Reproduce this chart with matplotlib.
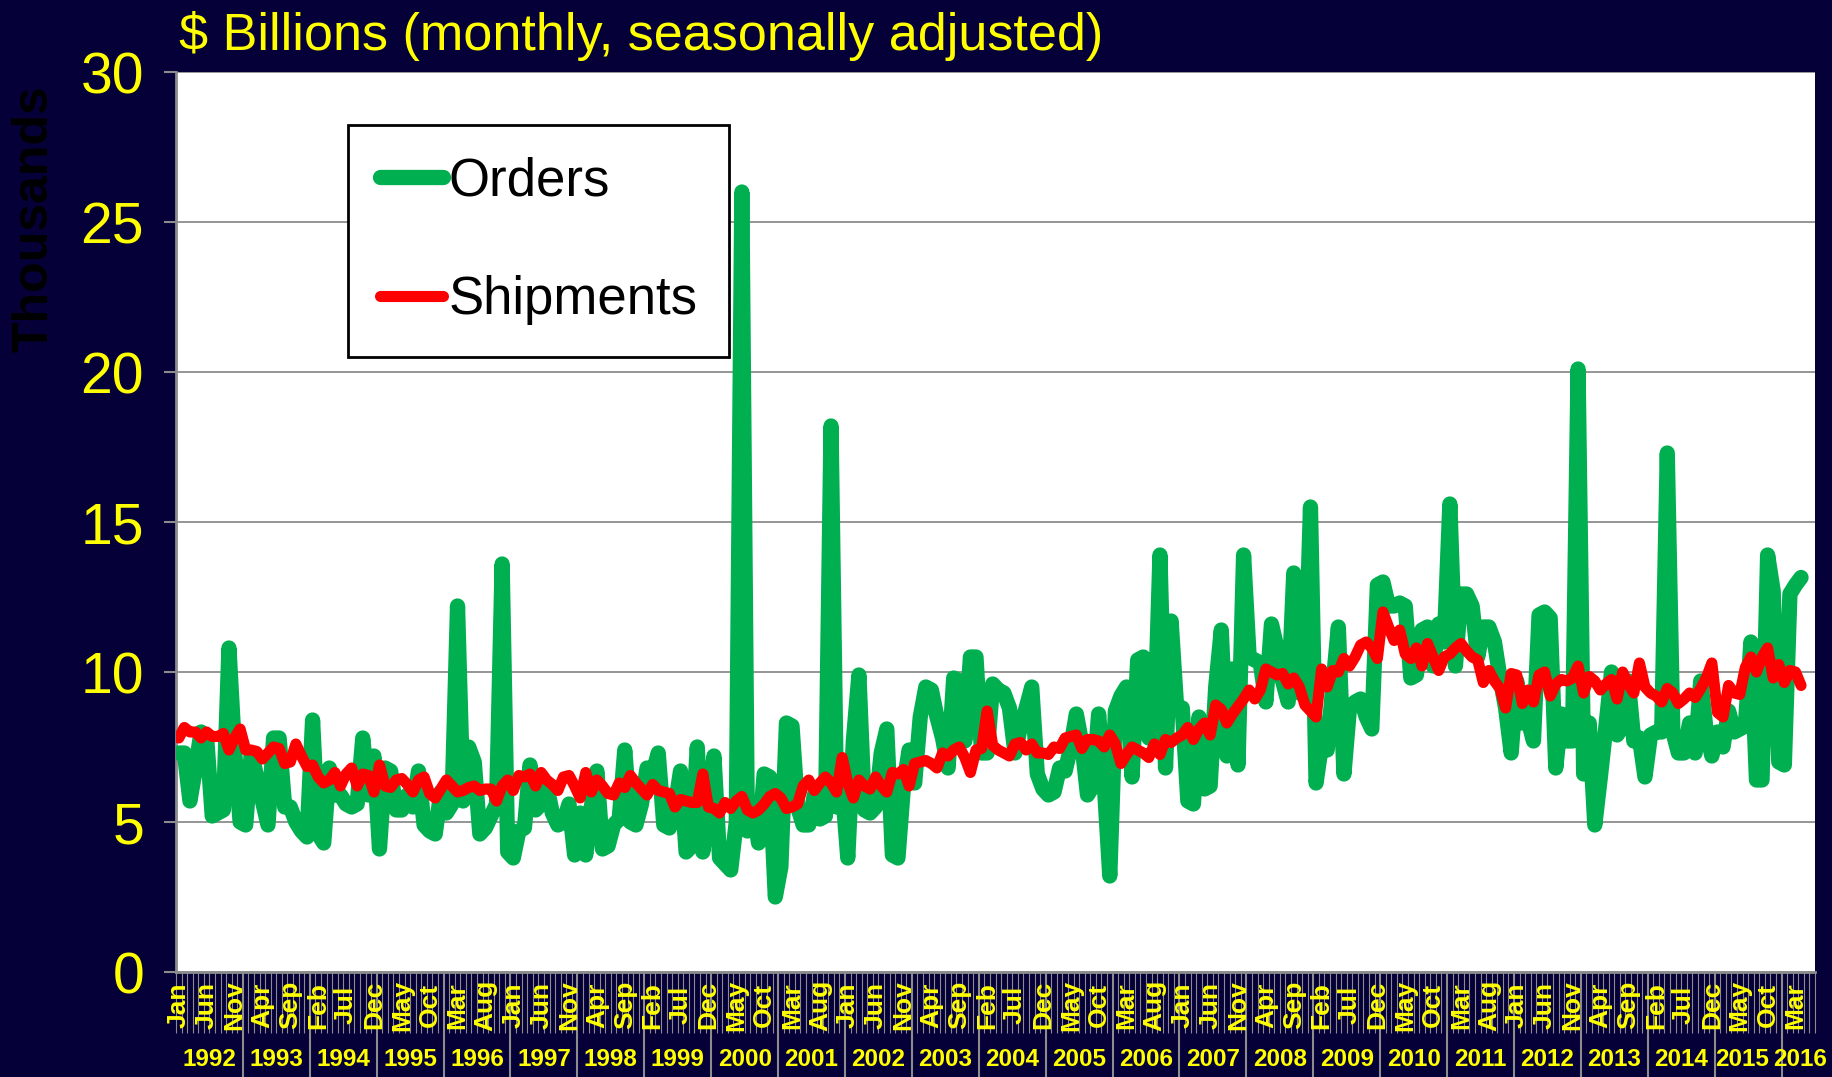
import numpy as np
import matplotlib
matplotlib.use("Agg")
import matplotlib.pyplot as plt
import matplotlib.transforms as mtrans

plt.rcParams['font.family'] = ['Liberation Sans', 'DejaVu Sans']

# monthly values, Jan 1992 .. Apr 2016 (thousands of $ billions)
orders = [
    7.3, 7.3, 5.7, 6.8, 8.0, 7.8, 5.2, 5.3, 5.4, 10.8, 7.4, 5.0,
    4.9, 7.3, 6.5, 5.7, 4.9, 7.8, 7.8, 5.5, 5.5, 5.0, 4.7, 4.5,
    8.4, 4.6, 4.3, 6.8, 5.9, 5.9, 5.6, 5.5, 5.6, 7.8, 5.9, 7.2,
    4.1, 6.8, 6.7, 5.4, 5.4, 5.9, 5.5, 6.7, 4.9, 4.7, 4.6, 6.0,
    5.3, 5.6, 12.2, 5.7, 7.5, 7.0, 4.6, 4.8, 5.2, 5.6, 13.6, 4.0,
    3.8, 4.7, 4.8, 6.9, 5.4, 5.6, 6.2, 5.3, 4.9, 5.0, 5.6, 3.9,
    5.3, 3.9, 5.5, 6.7, 4.1, 4.2, 4.9, 5.1, 7.4, 5.0, 4.9, 5.6,
    6.8, 6.6, 7.3, 4.9, 4.8, 5.5, 6.7, 4.0, 4.2, 7.5, 4.0, 5.5,
    7.2, 3.8, 3.6, 3.4, 5.0, 26.0, 4.7, 5.5, 4.3, 6.6, 6.5, 2.5,
    3.5, 8.3, 8.2, 5.5, 4.9, 4.9, 5.9, 5.1, 5.2, 18.2, 5.5, 6.2,
    3.8, 7.7, 9.9, 5.4, 5.3, 5.5, 7.3, 8.1, 3.9, 3.8, 6.2, 7.4,
    6.3, 8.5, 9.5, 9.4, 8.5, 7.8, 6.8, 9.8, 9.7, 7.7, 10.5, 10.5,
    7.3, 7.3, 9.6, 9.4, 9.3, 8.8, 7.3, 8.2, 8.8, 9.5, 6.6, 6.1,
    5.9, 6.0, 6.8, 6.7, 7.5, 8.6, 7.6, 5.9, 6.2, 8.6, 6.3, 3.2,
    8.7, 9.2, 9.5, 6.5, 10.4, 10.5, 7.8, 7.9, 13.9, 6.8, 11.7, 8.8,
    8.8, 5.7, 5.6, 8.5, 6.1, 6.2, 9.5, 11.4, 7.2, 10.1, 6.9, 13.9,
    10.5, 10.4, 10.3, 9.0, 11.6, 10.8, 9.7, 9.0, 13.3, 9.3, 9.5, 15.5,
    6.3, 7.6, 7.4, 9.5, 11.5, 6.6, 8.8, 9.0, 9.1, 8.5, 8.1, 12.9,
    13.0, 12.2, 12.2, 12.3, 12.2, 9.8, 9.9, 11.4, 11.5, 10.2, 11.6, 11.0,
    15.6, 10.2, 12.6, 12.6, 12.2, 10.5, 11.5, 11.5, 11.0, 9.8, 8.8, 7.3,
    9.7, 8.3, 8.4, 7.7, 11.9, 12.0, 11.8, 6.8, 8.6, 7.7, 7.7, 20.1,
    6.6, 8.3, 4.9, 6.5, 8.2, 10.0, 7.9, 8.2, 9.7, 7.7, 7.8, 6.5,
    7.9, 8.0, 8.0, 17.3, 8.0, 7.3, 7.3, 8.3, 7.3, 9.7, 8.0, 7.2,
    8.0, 7.5, 8.7, 8.0, 8.1, 8.2, 11.0, 6.4, 6.4, 13.9, 12.7, 7.0,
    6.9, 12.6, 12.9, 13.15,
]

shipments = [
    7.8, 8.15, 8.0, 8.0, 7.8, 8.0, 7.85, 7.85, 7.95, 7.4, 7.8, 8.1,
    7.4, 7.4, 7.35, 7.1, 7.3, 7.5, 7.45, 6.95, 7.0, 7.6, 7.2, 6.85,
    6.9, 6.5, 6.3, 6.4, 6.65, 6.2, 6.6, 6.8, 6.2, 6.6, 6.55, 6.0,
    6.9, 6.2, 6.15, 6.4, 6.45, 6.25, 6.0, 6.4, 6.5, 5.95, 5.8, 6.1,
    6.4, 6.2, 6.0, 6.05, 6.15, 6.2, 6.05, 6.1, 6.1, 5.7, 6.2, 6.4,
    6.05, 6.55, 6.5, 6.6, 6.2, 6.65, 6.4, 6.25, 6.05, 6.5, 6.55, 6.2,
    5.8, 6.65, 6.0, 6.4, 6.2, 5.95, 5.9, 6.3, 6.15, 6.55, 6.3, 6.1,
    5.9, 6.25, 6.05, 6.0, 5.95, 5.5, 5.75, 5.7, 5.65, 5.65, 6.6, 5.5,
    5.45, 5.3, 5.65, 5.45, 5.7, 5.85, 5.4, 5.3, 5.4, 5.6, 5.85, 5.95,
    5.8, 5.45, 5.5, 5.6, 6.2, 6.4, 6.05, 6.3, 6.5, 6.3, 6.0, 7.15,
    6.3, 5.8, 6.4, 6.2, 6.1, 6.5, 6.2, 6.0, 6.65, 6.6, 6.75, 6.2,
    6.95, 7.0, 7.05, 6.95, 6.8, 7.3, 7.2, 7.4, 7.5, 7.15, 6.65, 7.4,
    7.45, 8.7, 7.55, 7.4, 7.3, 7.2, 7.6, 7.65, 7.4, 7.6, 7.3, 7.3,
    7.25, 7.5, 7.45, 7.8, 7.85, 7.9, 7.45, 7.75, 7.75, 7.7, 7.5, 7.9,
    7.6, 6.95, 7.25, 7.5, 7.4, 7.3, 7.15, 7.6, 7.25, 7.75, 7.65, 7.8,
    7.9, 8.15, 7.75, 8.1, 8.3, 7.9, 8.9, 8.75, 8.3, 8.6, 8.85, 9.1,
    9.4, 9.1, 9.4, 10.1, 10.0, 9.9, 9.95, 9.6, 9.8, 9.5, 8.9, 8.7,
    8.5, 10.1, 9.5, 10.05, 10.0, 10.45, 10.2, 10.5, 10.9, 11.0, 10.8, 10.45,
    12.0, 11.5, 11.05, 11.4, 10.6, 10.45, 10.8, 10.2, 10.95, 10.5, 10.05, 10.5,
    10.6, 10.8, 10.95, 10.7, 10.5, 10.4, 9.65, 10.05, 9.7, 9.45, 8.8, 9.95,
    9.9, 8.95, 9.4, 9.0, 9.9, 10.0, 9.2, 9.6, 9.75, 9.7, 9.8, 10.2,
    9.3, 9.85, 9.7, 9.4, 9.6, 9.75, 9.1, 10.0, 9.6, 9.3, 10.3, 9.5,
    9.3, 9.2, 9.0, 9.45, 9.3, 8.95, 9.1, 9.3, 9.15, 9.45, 9.8, 10.3,
    8.65, 8.5, 9.55, 9.3, 9.25, 10.15, 10.5, 10.0, 10.5, 10.8, 9.8, 10.25,
    9.65, 10.05, 10.0, 9.55,
]

month_names = ['Jan', 'Feb', 'Mar', 'Apr', 'May', 'Jun',
               'Jul', 'Aug', 'Sep', 'Oct', 'Nov', 'Dec']
years = list(range(1992, 2017))
n_cat = 294          # axis runs Jan 1992 .. Jun 2016

navy = '#050038'
yellow = '#FFFF00'
green = '#00B050'
red = '#FF0000'
gray = '#8C8C8C'

fig = plt.figure(figsize=(18.32, 10.77), dpi=100, facecolor=navy)
ax = fig.add_axes([176/1832, 105/1077, 1639/1832, 900/1077])
ax.set_facecolor('white')

x = np.arange(len(orders))
ax.plot(x, orders, color=green, lw=11, solid_capstyle='round',
        solid_joinstyle='round', label='Orders', zorder=3)
ax.plot(np.arange(len(shipments)), shipments, color=red, lw=8,
        solid_capstyle='round', solid_joinstyle='round',
        label='Shipments', zorder=4)

ax.set_xlim(-0.5, n_cat - 0.5)
ax.set_ylim(0, 30)
ax.set_yticks(range(0, 31, 5))
ax.yaxis.grid(True, color=gray, lw=1.3)
ax.set_axisbelow(True)
ax.tick_params(axis='y', colors=gray, length=9, width=1.5, pad=14,
               labelcolor=yellow, labelsize=41)

for s in ['top', 'right']:
    ax.spines[s].set_visible(False)
for s in ['left', 'bottom']:
    ax.spines[s].set_color(gray)
    ax.spines[s].set_linewidth(2)

# ticks: month boundaries (short) and year boundaries (long)
ax.set_xticks([12 * k - 0.5 for k in range(1, 25)])
ax.set_xticklabels([])
ax.set_xticks(np.arange(-0.5, n_cat, 1), minor=True)
ax.tick_params(axis='x', which='major', colors=gray, length=76, width=1.5)
ax.tick_params(axis='x', which='minor', colors=gray, length=44, width=0.8)

trans = mtrans.blended_transform_factory(ax.transData, ax.transAxes)
for i in range(0, n_cat - 2, 5):
    ax.text(i, -0.037, month_names[i % 12], transform=trans, rotation=90,
            ha='center', va='center', color=yellow, fontsize=19,
            fontweight='bold', clip_on=False)
for k, yr in enumerate(years):
    start = 12 * k - 0.5
    end = min(start + 12, n_cat - 0.5)
    xc = (start + end) / 2
    # the last two labels are squeezed together at the right end
    if yr == 2015:
        xc -= 1.0
    if yr == 2016:
        xc += 0.3
    ax.text(xc, -0.097, str(yr), transform=trans,
            ha='center', va='center', color=yellow, fontsize=17.5,
            fontweight='bold', clip_on=False)

leg = ax.legend(loc='upper left', bbox_to_anchor=(0.105, 0.941),
                borderaxespad=0, fontsize=38, handlelength=1.2,
                handletextpad=0.1, labelspacing=1.3, borderpad=0.6,
                fancybox=False, framealpha=1, edgecolor='black')
leg.get_frame().set_linewidth(2)

fig.text(179/1832, 1 - 36/1077, '$ Billions (monthly, seasonally adjusted)',
         color=yellow, fontsize=37.5, ha='left', va='center')
fig.text(35/1832, 1 - 219/1077, 'Thousands', color='black', fontsize=36,
         fontweight='bold', rotation=90, ha='center', va='center')

fig.savefig('out.png', dpi=100, facecolor=navy)
